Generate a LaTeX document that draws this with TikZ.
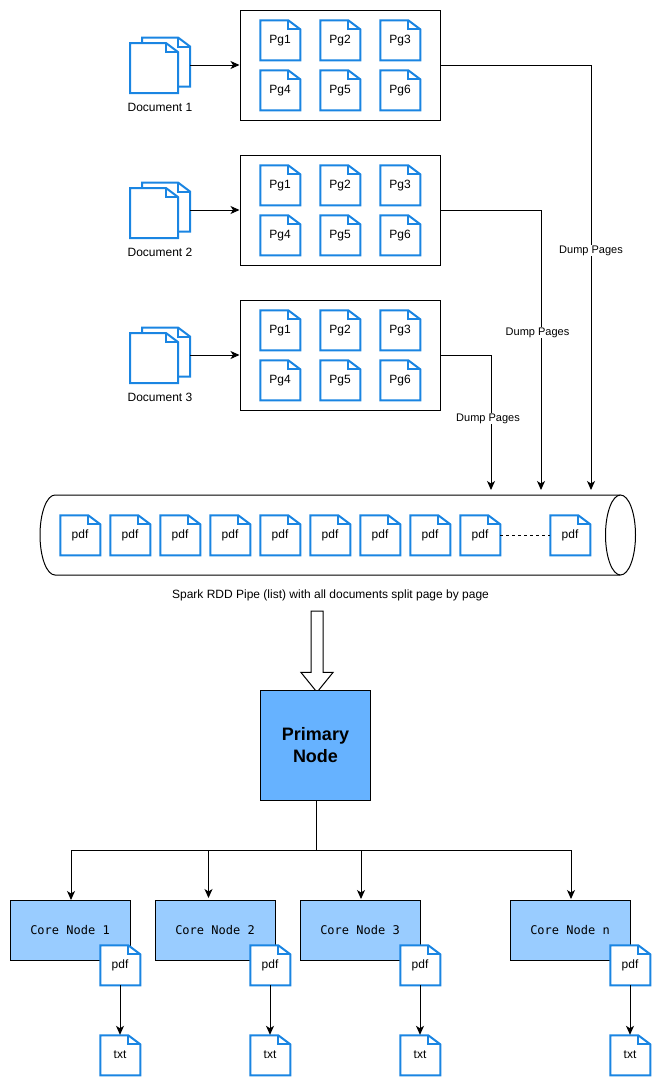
\documentclass[tikz,border=0pt]{standalone}
\usepackage{fontspec}
\setmainfont{Liberation Sans}
\setmonofont{DejaVu Sans Mono}
\usetikzlibrary{arrows.meta,shapes.arrows}

\definecolor{pgblue}{HTML}{1A85E2}
\definecolor{primblue}{HTML}{66B2FF}
\definecolor{coreblue}{HTML}{99CCFF}

% one page icon, centred on (x,y)
\newcommand{\docpage}[4]{
  \draw[pgline, fill=white] (#2,#3) ++(-19.7,-19.7) -- ++(28,0) -- ++(12,9) -- ++(0,31) -- ++(-40,0) -- cycle;
  \draw[pgline] (#2,#3) ++(8.3,-19.7) -- ++(0,9) -- ++(12,0);
  \node[pg] (#1) at (#2,#3) {#4};
}
% two stacked pages, centred on the back one
\newcommand{\docstack}[3]{
  \draw[pgline, fill=white] (#2,#3) ++(-24,-25) -- ++(36,0) -- ++(12,9) -- ++(0,40) -- ++(-48,0) -- cycle;
  \draw[pgline] (#2,#3) ++(12,-25) -- ++(0,9) -- ++(12,0);
  \draw[pgline, fill=white] (#2,#3) ++(-36,-19.5) -- ++(36,0) -- ++(12,9) -- ++(0,41) -- ++(-48,0) -- cycle;
  \draw[pgline] (#2,#3) ++(0,-19.5) -- ++(0,9) -- ++(12,0);
  \node[stack] (#1) at (#2,#3) {};
}

\begin{document}
\begin{tikzpicture}[
  x=1pt, y=-1pt,
  pgline/.style={line width=2pt, draw=pgblue, line join=miter},
  pg/.style={minimum size=40pt, inner sep=0pt, text height=10pt, text depth=3pt, font=\fontsize{12}{14}\selectfont},
  stack/.style={minimum width=48pt, minimum height=50pt, inner sep=0pt},
  grp/.style={draw=black, line width=1pt, minimum width=200pt, minimum height=110pt, inner sep=0pt},
  lbl/.style={inner sep=0pt, font=\fontsize{12}{14}\selectfont},
  dump/.style={fill=white, inner sep=1pt, font=\fontsize{11}{13}\selectfont},
  prim/.style={draw=black, line width=1pt, fill=primblue, minimum size=110pt, inner sep=0pt, align=center, font=\fontsize{18}{22}\selectfont\bfseries},
  core/.style={draw=black, line width=1pt, fill=coreblue, minimum width=120pt, minimum height=60pt, inner sep=0pt, font=\fontsize{12}{14}\selectfont\ttfamily},
  hollowarr/.style={draw=black, line width=1pt, fill=white, single arrow, shape border rotate=270, minimum width=31pt, minimum height=81pt, single arrow head extend=10pt, single arrow tip angle=78, inner sep=5.5pt},
  arr/.style={line width=1pt, draw=black, -{Stealth[length=9pt,width=8pt,inset=2.5pt]}},
  e/.style={line width=1pt, draw=black}
]
\useasboundingbox (0,0) rectangle (662,1087);

% --- Document groups ---
\node[grp] (box1) at (340,65) {};
\node[grp] (box2) at (340,210) {};
\node[grp] (box3) at (340,355) {};

\docstack{doc1}{166}{62.5}
\docstack{doc2}{166}{207.5}
\docstack{doc3}{166}{352.5}

\node[lbl] (lab1) at (160,107.5) {Document 1};
\node[lbl] (lab2) at (160,252.5) {Document 2};
\node[lbl] (lab3) at (160,397.5) {Document 3};

\docpage{a1}{280}{40}{Pg1}
\docpage{a2}{340}{40}{Pg2}
\docpage{a3}{400}{40}{Pg3}
\docpage{a4}{280}{90}{Pg4}
\docpage{a5}{340}{90}{Pg5}
\docpage{a6}{400}{90}{Pg6}

\docpage{b1}{280}{185}{Pg1}
\docpage{b2}{340}{185}{Pg2}
\docpage{b3}{400}{185}{Pg3}
\docpage{b4}{280}{235}{Pg4}
\docpage{b5}{340}{235}{Pg5}
\docpage{b6}{400}{235}{Pg6}

\docpage{c1}{280}{330}{Pg1}
\docpage{c2}{340}{330}{Pg2}
\docpage{c3}{400}{330}{Pg3}
\docpage{c4}{280}{380}{Pg4}
\docpage{c5}{340}{380}{Pg5}
\docpage{c6}{400}{380}{Pg6}

% --- Pipe ---
\draw[e] (620,495) -- (55,495) arc[start angle=90, end angle=270, x radius=15pt, y radius=40pt] -- (620,575);
\draw[e] (620.5,535) ellipse [x radius=15pt, y radius=40pt];

\docpage{p1}{80}{535}{pdf}
\docpage{p2}{130}{535}{pdf}
\docpage{p3}{180}{535}{pdf}
\docpage{p4}{230}{535}{pdf}
\docpage{p5}{280}{535}{pdf}
\docpage{p6}{330}{535}{pdf}
\docpage{p7}{380}{535}{pdf}
\docpage{p8}{430}{535}{pdf}
\docpage{p9}{480}{535}{pdf}
\docpage{pn}{570}{535}{pdf}

\node[lbl] (spark) at (330.5,595) {Spark RDD Pipe (list) with all documents split page by page};

% --- Primary and core nodes ---
\node[hollowarr] (hollow) at (317,648) {};

\node[prim] (primary) at (315.5,745.5) {Primary\\Node};

\node[core] (core1) at (70,930) {Core Node 1};
\node[core] (core2) at (215,930) {Core Node 2};
\node[core] (core3) at (360,930) {Core Node 3};
\node[core] (coren) at (570,930) {Core Node n};

\docpage{f1}{120}{965}{pdf}
\docpage{f2}{270}{965}{pdf}
\docpage{f3}{420}{965}{pdf}
\docpage{f4}{630}{965}{pdf}

\docpage{t1}{120}{1055}{txt}
\docpage{t2}{270}{1055}{txt}
\docpage{t3}{420}{1055}{txt}
\docpage{t4}{630}{1055}{txt}

% --- Free ends ---
\coordinate (in1) at (491,490);
\coordinate (in2) at (541,490);
\coordinate (in3) at (591,490);
\coordinate (bus) at (316,850);
\coordinate (tap1) at (71,900);
\coordinate (tap2) at (208.5,898);
\coordinate (tap3) at (361,899);
\coordinate (tapn) at (571,899);

% --- Edges ---
\draw[arr] (doc1.east |- box1.west) -- (box1.west);
\draw[arr] (doc2.east |- box2.west) -- (box2.west);
\draw[arr] (doc3.east |- box3.west) -- (box3.west);

\draw[arr] (box1.east) -| (in3);
\draw[arr] (box2.east) -| (in2);
\draw[arr] (box3.east) -| (in1);

\draw[e, dashed, dash pattern=on 3pt off 3pt] (p9.east) -- (pn.west);

\draw[e] (primary.south -| bus) -- (bus);
\draw[arr] (bus) -| (tap1);
\draw[arr] (bus) -| (tap2);
\draw[arr] (bus) -| (tap3);
\draw[arr] (bus) -| (tapn);

\draw[arr] (f1.south) -- (t1.north);
\draw[arr] (f2.south) -- (t2.north);
\draw[arr] (f3.south) -- (t3.north);
\draw[arr] (f4.south) -- (t4.north);

% --- Edge labels ---
\node[dump] (d1) at (591,250.5) {Dump Pages};
\node[dump] (d2) at (537.5,332.5) {Dump Pages};
\node[dump] (d3) at (488,418.5) {Dump Pages};

\end{tikzpicture}
\end{document}
